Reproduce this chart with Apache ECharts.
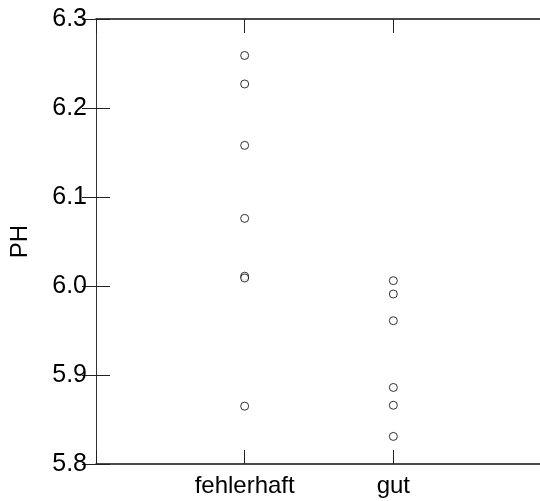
<!DOCTYPE html>
<html>
<head>
<meta charset="utf-8">
<script src="https://cdn.jsdelivr.net/npm/echarts@6/dist/echarts.min.js"></script>
<style>
  html, body { margin: 0; padding: 0; background: #fff; }
  #main { width: 540px; height: 501px; }
</style>
</head>
<body>
<div id="main"></div>
<script>
// groups on the x axis (placed at x = 1, 2)
const categories = ['fehlerhaft', 'gut'];
// PH readings per group
const phFehlerhaft = [6.259, 6.227, 6.158, 6.076, 6.011, 6.009, 5.865];
const phGut = [6.006, 5.991, 5.961, 5.886, 5.866, 5.831];
const yTicks = [5.8, 5.9, 6.0, 6.1, 6.2, 6.3];

const font = 'Liberation Sans, Arial, sans-serif';

const points = [];
phFehlerhaft.forEach(v => points.push([1, v]));
phGut.forEach(v => points.push([2, v]));

const catLabel = v => categories[v - 1] || '';

// x axes: bottom with labels, top as mirror frame
const xBase = {
  type: 'value', min: 0, max: 3, interval: 1,
  axisLine: { show: true, lineStyle: { color: '#111', width: 1.5 } },
  axisTick: { show: true, inside: true, length: 14, lineStyle: { color: '#222', width: 1 } },
  splitLine: { show: false }
};
// y axes: left with labels, right (just off screen) as mirror frame
const yBase = {
  type: 'value', min: yTicks[0], max: yTicks[yTicks.length - 1], interval: 0.1,
  axisLine: { show: true, lineStyle: { color: '#333', width: 1 } },
  axisTick: { show: true, inside: true, length: 14, lineStyle: { color: '#222', width: 1 } },
  splitLine: { show: false }
};

const chart = echarts.init(document.getElementById('main'));
chart.setOption({
  animation: false,
  grid: { left: 96, top: 19, width: 446, bottom: 37, containLabel: false, outerBoundsMode: 'none' },
  xAxis: [
    Object.assign({}, xBase, {
      position: 'bottom',
      axisLabel: { formatter: catLabel, color: '#000', fontSize: 24, fontFamily: font, margin: 10 }
    }),
    Object.assign({}, xBase, { position: 'top', axisLabel: { show: false } })
  ],
  yAxis: [
    Object.assign({}, yBase, {
      position: 'left',
      name: 'PH', nameLocation: 'middle', nameRotate: 90, nameGap: 64,
      nameTextStyle: { color: '#000', fontSize: 24, fontFamily: font },
      axisLabel: { formatter: v => v.toFixed(1), color: '#000', fontSize: 25, fontFamily: font, margin: 9 }
    }),
    Object.assign({}, yBase, { position: 'right', axisLabel: { show: false } })
  ],
  series: [{
    type: 'scatter',
    data: points,
    symbol: 'circle',
    symbolSize: 8,
    itemStyle: { color: '#fff', borderColor: '#000', borderWidth: 1 }
  }]
});
</script>
</body>
</html>
